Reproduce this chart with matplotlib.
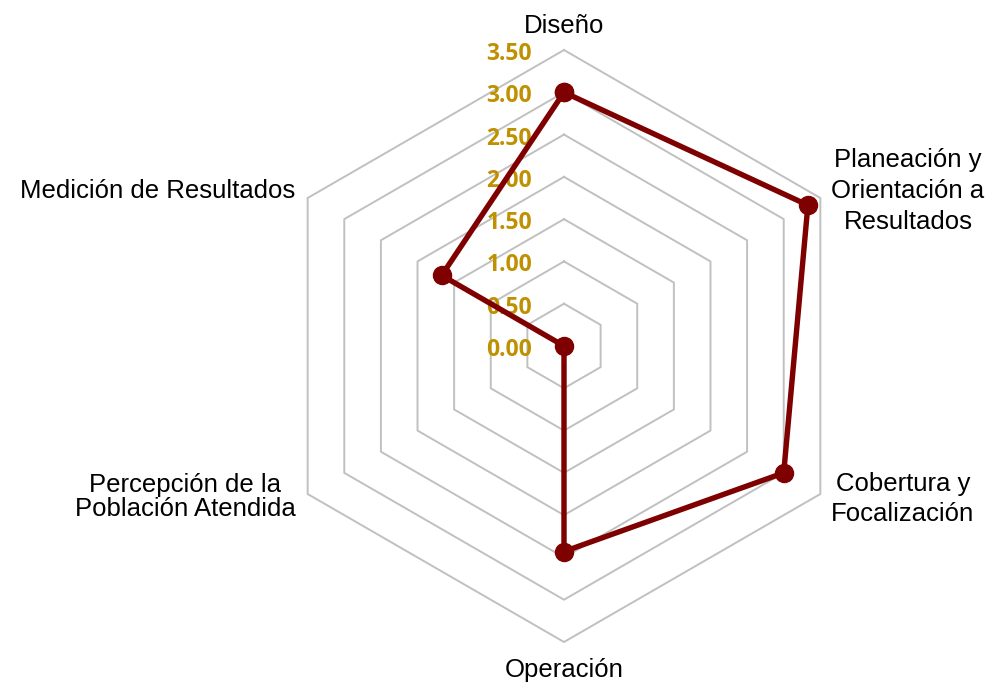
import numpy as np
import matplotlib
matplotlib.use("Agg")
import matplotlib.pyplot as plt
from matplotlib.transforms import offset_copy

# data
categories = ["Diseño", "Planeación y\nOrientación a\nResultados", "Cobertura y\nFocalización",
              "Operación", "Percepción de la\nPoblación Atendida", "Medición de Resultados"]
values = [3.00, 3.33, 3.00, 2.43, 0.00, 1.67]
ring_levels = [0.5, 1.0, 1.5, 2.0, 2.5, 3.0, 3.5]
ring_labels = ["0.00", "0.50", "1.00", "1.50", "2.00", "2.50", "3.00", "3.50"]
ring_label_values = [0.0, 0.5, 1.0, 1.5, 2.0, 2.5, 3.0, 3.5]

# label placement: (dx, dy in pixels, ha, va, linespacing)
label_pos = [
    (0, 17, "center", "baseline", 1.2),
    (11, 7, "left", "center", 1.36),
    (11, -5, "left", "center", 1.36),
    (0, -35, "center", "baseline", 1.2),
    (-12, -3, "right", "center", 1.02),
    (-12, 7, "right", "center", 1.2),
]

fig = plt.figure(figsize=(9.94, 6.85), dpi=100)
ax = fig.add_axes([268 / 994, 43 / 685, 592 / 994, 592 / 685], projection="polar")
ax.set_theta_zero_location("N")
ax.set_theta_direction(-1)
ax.set_ylim(0, 3.5)
ax.grid(False)
ax.spines["polar"].set_visible(False)
ax.set_xticks([])
ax.set_yticks([])

n = len(categories)
theta = np.linspace(0, 2 * np.pi, n, endpoint=False)
theta_c = np.append(theta, theta[0])

# hexagon rings
for lv in ring_levels:
    ax.plot(theta_c, [lv] * (n + 1), color="#C0C0C0", lw=1.4, zorder=1, clip_on=False)

# data line
vals_c = values + [values[0]]
ax.plot(theta_c, vals_c, color="#7F0000", lw=3.9, marker="o", ms=13,
        zorder=3, clip_on=False)

# ring value labels
for txt, v in zip(ring_labels, ring_label_values):
    tr = offset_copy(ax.transData, fig=fig, x=-32, y=-4, units="dots")
    ax.text(0, v, txt, transform=tr, ha="right", va="center", fontsize=16.5,
            fontweight="bold", color="#BF9000", family=["Open Sans", "DejaVu Sans"], zorder=2)

# category labels
for t, lab, (dx, dy, ha, va, ls) in zip(theta, categories, label_pos):
    tr = offset_copy(ax.transData, fig=fig, x=dx, y=dy, units="dots")
    ax.text(t, 3.5, lab, transform=tr, ha=ha, va=va, multialignment="center",
            linespacing=ls, fontsize=18.5, color="black",
            family=["Liberation Sans", "DejaVu Sans"])

fig.savefig("out.png", dpi=100)
